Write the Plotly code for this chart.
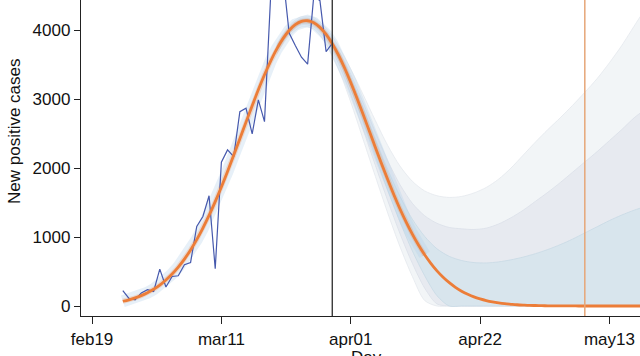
import numpy as np
import pandas as pd
import plotly.graph_objects as go

BASE = pd.Timestamp("2020-02-19")

# Observed daily new positive cases (feb24 .. mar29)
obs_start = "2020-02-24"
obs_values = [222, 110, 88, 190, 236, 212, 536, 275, 429, 439, 599, 632,
              1154, 1299, 1600, 540, 2087, 2265, 2168, 2820, 2870, 2497,
              2990, 2675, 4500, 4700, 4800, 3960, 3780, 3610, 3510, 4500,
              4430, 3690, 3810]

# Fitted curve, daily from feb24
fit_start = "2020-02-24"
fit_values = [69, 90, 117, 151, 192, 243, 304, 378, 464, 565, 681, 814, 963,
              1131, 1314, 1514, 1727, 1952, 2187, 2426, 2668, 2906, 3137,
              3355, 3554, 3731, 3880, 3998, 4082, 4130, 4139, 4110, 4043,
              3941, 3806, 3642, 3453, 3243, 3018, 2783, 2542, 2301, 2064,
              1834, 1614, 1408, 1217, 1042, 884, 743, 619, 510, 417, 338,
              271, 215, 170, 132, 103, 79, 60, 45, 33, 25, 18, 13, 9, 7, 5,
              3, 2, 2, 1, 1, 0, 0, 0, 0, 0, 0, 0, 0, 0, 0, 0]

# Prediction bands (days after feb19)
band_days = list(range(30, 89, 2)) + [89]
a_upper = [3800, 4070, 4200, 4185, 4030, 3770, 3440, 3070, 2690, 2330, 2030,
           1810, 1670, 1600, 1575, 1590, 1640, 1720, 1840, 2000, 2190, 2380,
           2560, 2730, 2910, 3100, 3300, 3530, 3780, 4060, 4200]
a_lower = [3660, 3920, 4050, 4020, 3800, 3440, 2960, 2420, 1880, 1350, 860,
           430, 80] + [0] * 18
b_upper = [3780, 4045, 4175, 4160, 4000, 3720, 3360, 2950, 2520, 2110, 1760,
           1490, 1310, 1200, 1140, 1120, 1110, 1130, 1190, 1280, 1390, 1520,
           1650, 1790, 1940, 2090, 2240, 2400, 2560, 2730, 2800]
b_lower = [3690, 3950, 4080, 4050, 3860, 3520, 3070, 2560, 2040, 1530, 1050,
           620, 260, 30] + [0] * 17
c_upper = [3760, 4025, 4155, 4138, 3975, 3690, 3310, 2880, 2420, 1980, 1590,
           1260, 1010, 830, 720, 660, 630, 625, 640, 670, 710, 760, 820, 890,
           970, 1060, 1150, 1240, 1320, 1390, 1420]
c_lower = [3700, 3970, 4100, 4080, 3900, 3580, 3160, 2670, 2170, 1680, 1220,
           800, 440, 150, 0] + [0] * 16

# Reference lines
vline_black = "2020-03-29"
vline_orange = "2020-05-09"

tick_dates = ["2020-02-19", "2020-03-11", "2020-04-01", "2020-04-22", "2020-05-13"]
tick_labels = ["feb19", "mar11", "apr01", "apr22", "may13"]
y_ticks = [0, 1000, 2000, 3000, 4000]

obs_dates = pd.date_range(obs_start, periods=len(obs_values), freq="D")
fit_dates = pd.date_range(fit_start, periods=len(fit_values), freq="D")
band_dates = [BASE + pd.Timedelta(days=d) for d in band_days]

fig = go.Figure()

def add_band(lower, upper, fillcol, edgecol):
    fig.add_trace(go.Scatter(x=band_dates, y=lower, mode="lines",
                             line=dict(color=edgecol, width=0.8, shape="spline", smoothing=0.8),
                             hoverinfo="skip", showlegend=False))
    fig.add_trace(go.Scatter(x=band_dates, y=upper, mode="lines", fill="tonexty",
                             fillcolor=fillcol,
                             line=dict(color=edgecol, width=0.8, shape="spline", smoothing=0.8),
                             hoverinfo="skip", showlegend=False))

add_band(a_lower, a_upper, "#f2f5f7", "#e4e9ee")
add_band(b_lower, b_upper, "#e7eaf0", "#dadfe8")
add_band(c_lower, c_upper, "#d8e5ed", "#c8d9e5")

# glow of simulated curves around the fit
n_glow = 50
fig.add_trace(go.Scatter(x=fit_dates[:n_glow], y=fit_values[:n_glow], mode="lines",
                         line=dict(color="rgba(180,208,232,0.32)", width=12),
                         hoverinfo="skip", showlegend=False))
fig.add_trace(go.Scatter(x=fit_dates[:n_glow], y=fit_values[:n_glow], mode="lines",
                         line=dict(color="rgba(236,127,58,0.22)", width=5),
                         hoverinfo="skip", showlegend=False))

fig.add_trace(go.Scatter(x=obs_dates, y=obs_values, mode="lines",
                         line=dict(color="#4659ad", width=1.2),
                         showlegend=False))
fig.add_trace(go.Scatter(x=fit_dates, y=fit_values, mode="lines",
                         line=dict(color="#ec7d38", width=2.8, shape="spline"),
                         showlegend=False))

fig.add_shape(type="line", x0=vline_black, x1=vline_black, y0=0, y1=1,
              xref="x", yref="paper", line=dict(color="#2a2a2a", width=1.3), layer="above")
fig.add_shape(type="line", x0=vline_orange, x1=vline_orange, y0=0, y1=1,
              xref="x", yref="paper", line=dict(color="#e6a678", width=1.5), layer="above")

x0 = BASE + pd.Timedelta(days=-1.79)
x1 = BASE + pd.Timedelta(days=88.96)

font = dict(family="Liberation Sans, Arial, sans-serif", size=17, color="#111")

fig.update_layout(
    width=640, height=356,
    margin=dict(l=81, r=0, t=0, b=40),
    paper_bgcolor="white", plot_bgcolor="white",
    font=font,
    xaxis=dict(type="date", range=[x0, x1], tickvals=tick_dates, ticktext=tick_labels,
               showgrid=False, zeroline=False, showline=True, linecolor="#222",
               linewidth=1.3, ticks="outside", ticklen=7, tickcolor="#222",
               tickwidth=1.2, tickfont=font),
    yaxis=dict(range=[-145, 4440], tickvals=y_ticks, ticktext=[str(v) for v in y_ticks],
               showgrid=False, zeroline=False, showline=True, linecolor="#222",
               linewidth=1.3, ticks="outside", ticklen=6, tickcolor="#222",
               tickwidth=1.2, tickfont=font),
    annotations=[
        dict(text="Day", xref="paper", yref="paper", x=0.5116, y=-0.095,
             xanchor="center", yanchor="top", showarrow=False, font=font),
        dict(text="New positive cases", xref="paper", yref="paper", x=-0.1199, y=0.5854,
             xanchor="center", yanchor="middle", textangle=-90, showarrow=False, font=font),
    ],
)

fig.write_html("out.html", config={"displayModeBar": False},
               post_script="document.body.style.margin='0';document.body.style.overflow='hidden';")
